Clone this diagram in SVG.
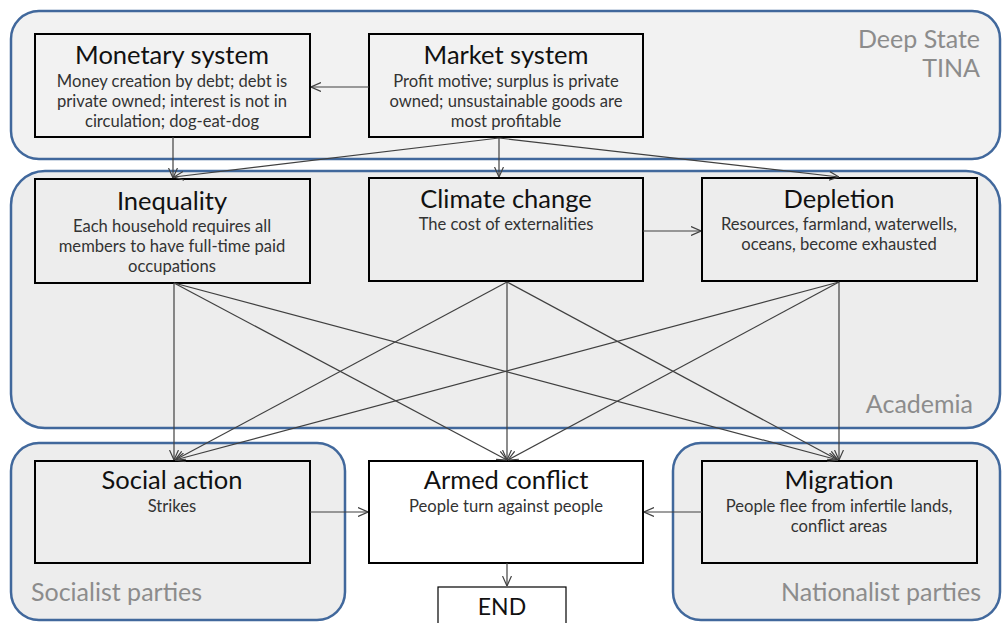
<svg xmlns="http://www.w3.org/2000/svg" width="1002" height="623" viewBox="0 0 1002 623">
<defs>
<marker id="arr" viewBox="0 0 10 10" refX="10" refY="5" markerWidth="10" markerHeight="10" markerUnits="userSpaceOnUse" orient="auto">
<path d="M0,0.5 L10,5 L0,9.5" fill="none" stroke="#404040" stroke-width="1.2"/>
</marker>
</defs>
<style>
.zone{stroke:#41689c;stroke-width:2.5}
.box{stroke:#000;stroke-width:2}
.t{font-family:Lato,"Liberation Sans",sans-serif;font-size:25.5px;fill:#111;text-anchor:middle}
.s{font-family:Lato,"Liberation Sans",sans-serif;font-size:16.6px;fill:#333;text-anchor:middle}
.z{font-family:Lato,"Liberation Sans",sans-serif;font-size:25px;fill:#8c8c8c}
.c{stroke:#404040;stroke-width:1.2;fill:none;marker-end:url(#arr)}
</style>
<rect width="1002" height="623" fill="#fff"/>
<g id="zone-deepstate">
<rect class="zone" x="11" y="11" width="989" height="148" rx="28" fill="#f2f2f2"/>
<text class="z" x="980" y="48" text-anchor="end">Deep State</text>
<text class="z" x="980" y="77" text-anchor="end">TINA</text>
</g>
<g id="zone-academia">
<rect class="zone" x="11" y="171" width="989" height="257" rx="34" fill="#ededed"/>
<text class="z" x="973" y="413" text-anchor="end">Academia</text>
</g>
<g id="zone-socialist">
<rect class="zone" x="11" y="443" width="334" height="177" rx="28" fill="#ededed"/>
<text class="z" x="31" y="601">Socialist parties</text>
</g>
<g id="zone-nationalist">
<rect class="zone" x="673" y="443" width="327" height="177" rx="28" fill="#ededed"/>
<text class="z" x="981" y="601" text-anchor="end">Nationalist parties</text>
</g>
<g id="monetary">
<rect class="box" x="35" y="34" width="275" height="103" fill="#f2f2f2"/>
<text class="t" x="172" y="64">Monetary system</text>
<text class="s" x="172" y="87">Money creation by debt; debt is</text>
<text class="s" x="172" y="107">private owned; interest is not in</text>
<text class="s" x="172" y="127">circulation; dog-eat-dog</text>
</g>
<g id="market">
<rect class="box" x="369" y="34" width="274" height="103" fill="#f2f2f2"/>
<text class="t" x="506" y="64">Market system</text>
<text class="s" x="506" y="87">Profit motive; surplus is private</text>
<text class="s" x="506" y="107">owned; unsustainable goods are</text>
<text class="s" x="506" y="127">most profitable</text>
</g>
<g id="inequality">
<rect class="box" x="35" y="179" width="275" height="104" fill="#ededed"/>
<text class="t" x="172" y="210">Inequality</text>
<text class="s" x="172" y="232">Each household requires all</text>
<text class="s" x="172" y="252">members to have full-time paid</text>
<text class="s" x="172" y="272">occupations</text>
</g>
<g id="climate">
<rect class="box" x="369" y="178" width="274" height="103" fill="#ededed"/>
<text class="t" x="506" y="208">Climate change</text>
<text class="s" x="506" y="230">The cost of externalities</text>
</g>
<g id="depletion">
<rect class="box" x="702" y="178" width="275" height="103" fill="#ededed"/>
<text class="t" x="839" y="208">Depletion</text>
<text class="s" x="839" y="230">Resources, farmland, waterwells,</text>
<text class="s" x="839" y="250">oceans, become exhausted</text>
</g>
<g id="social">
<rect class="box" x="35" y="461" width="275" height="102" fill="#ededed"/>
<text class="t" x="172" y="489">Social action</text>
<text class="s" x="172" y="512">Strikes</text>
</g>
<g id="armed">
<rect class="box" x="369" y="461" width="274" height="102" fill="#fff"/>
<text class="t" x="506" y="489">Armed conflict</text>
<text class="s" x="506" y="512">People turn against people</text>
</g>
<g id="migration">
<rect class="box" x="702" y="461" width="275" height="102" fill="#ededed"/>
<text class="t" x="839" y="489">Migration</text>
<text class="s" x="839" y="512">People flee from infertile lands,</text>
<text class="s" x="839" y="532">conflict areas</text>
</g>
<g id="end">
<rect x="438" y="587" width="128" height="40" fill="#fff" stroke="#000" stroke-width="1.2"/>
<text class="t" x="502" y="615" style="font-size:23px">END</text>
</g>
<g id="connectors">
<line class="c" x1="369" y1="87" x2="311" y2="87"/>
<line class="c" x1="173" y1="137" x2="173" y2="178"/>
<line class="c" x1="499" y1="138" x2="174" y2="177"/>
<line class="c" x1="499" y1="138" x2="499" y2="177"/>
<line class="c" x1="499" y1="138" x2="839" y2="177"/>
<line class="c" x1="643" y1="231" x2="701" y2="231"/>
<line class="c" x1="174" y1="283" x2="174" y2="460"/>
<line class="c" x1="174" y1="283" x2="507" y2="460"/>
<line class="c" x1="174" y1="283" x2="838" y2="460"/>
<line class="c" x1="507" y1="282" x2="175" y2="460"/>
<line class="c" x1="507" y1="282" x2="507" y2="460"/>
<line class="c" x1="507" y1="282" x2="838" y2="460"/>
<line class="c" x1="839" y1="282" x2="175" y2="460"/>
<line class="c" x1="839" y1="282" x2="508" y2="460"/>
<line class="c" x1="839" y1="282" x2="839" y2="460"/>
<line class="c" x1="310" y1="512" x2="368" y2="512"/>
<line class="c" x1="702" y1="512" x2="644" y2="512"/>
<line class="c" x1="507" y1="563" x2="507" y2="586"/>
</g>
</svg>
